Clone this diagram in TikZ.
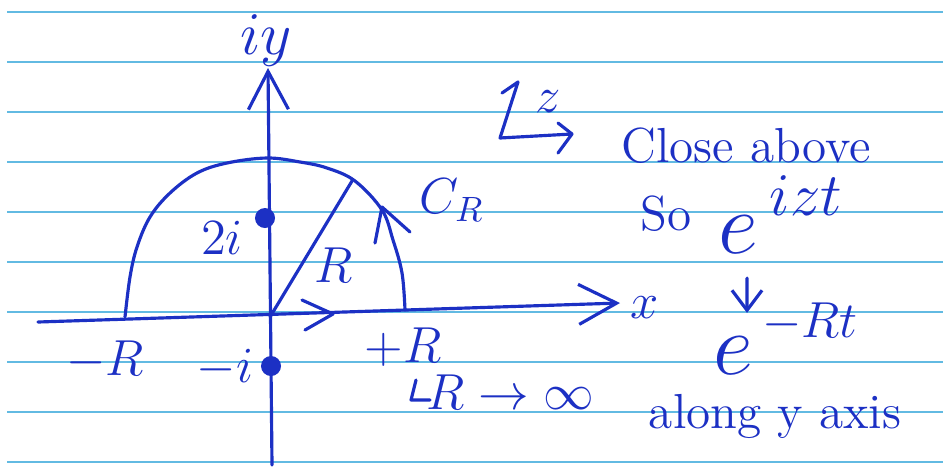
\documentclass[tikz,border=0pt]{standalone}
\usepackage{amssymb}
\usepackage{xcolor}
\usepackage{tikz}
\usetikzlibrary{arrows.meta,calc}

\definecolor{ink}{RGB}{28,48,196}
\definecolor{ruling}{RGB}{98,186,226}

\begin{document}
\begin{tikzpicture}[
    x=0.01cm, y=-0.01cm,
    font=\fontsize{14}{16}\selectfont,
    pen/.style={draw=ink, line width=0.9pt, line cap=round, line join=round},
    axis/.style={pen, -{Straight Barb[length=3.8mm, width=4mm]}},
    arr/.style={pen, -{Straight Barb[length=2mm, width=3mm]}},
    lbl/.style={text=ink, inner sep=1pt},
    big/.style={lbl, font=\fontsize{23}{26}\selectfont},
    dot/.style={circle, fill=ink, inner sep=0pt, minimum size=2mm},
    ruleline/.style={draw=ruling, line width=0.7pt}
  ]
    \fill[white] (0,0) rectangle (943,475);
    \useasboundingbox (0,0) rectangle (943,475);
    % paper
    \foreach \yy in {12,62,...,462}
      \draw[ruleline] (7,\yy) -- (943,\yy);
    % axes
    \coordinate (O) at (270,317);
    \coordinate (ybot) at (272,465);
    \coordinate (ytop) at (268,68);
    \coordinate (xleft) at (38,322);
    \coordinate (xright) at (620,303);
    \draw[axis] (ybot) -- (ytop);
    \draw[axis] (xleft) -- (xright);
    % contour
    \draw[pen] plot[smooth, tension=0.6] coordinates {(125,317) (130,277) (137,247) (150,217)
      (170,193) (197,173) (227,163) (267,158) (300,162) (327,168) (355,181) (382,210)
      (393,240) (402,273) (405,310)};
    \coordinate (rend) at (352,181);
    \draw[pen] (O) -- (rend);
    \draw[pen] (302,300) -- (333,314) -- (305,330);
    \draw[pen] (375,243) -- (382,207) -- (410,232);
    % poles
    \node[dot] (p2i) at (265,218) {};
    \node[dot] (pmi) at (271,366) {};
    % labels
    \node[lbl, font=\fontsize{18}{20}\selectfont] (iy) at (266,40) {$iy$};
    \node[lbl] (xlab) at (645,308) {$x$};
    \node[lbl] (l2i) at (222,238) {$2i$};
    \node[lbl] (lmi) at (225,368) {$-i$};
    \node[lbl] (lmr) at (105,360) {$-R$};
    \node[lbl] (lpr) at (403,347) {$+R$};
    \node[lbl] (lrad) at (334,265) {$R$};
    \node[lbl] (lcr) at (452,200) {$C_R$};
    \node[lbl] (lim) at (510,392) {$R \to \infty$};
    \draw[pen] ($(lim.west)+(-6,-12)$) -- ++(-5,20) -- ++(19,0);
    % z plane
    \coordinate (zc) at (500,138);
    \draw[pen] (502,93) -- (518,82) -- (zc) -- (572,134);
    \draw[pen] (558,123) -- (572,134) -- (558,153);
    \node[lbl] (zlab) at (548,102) {$z$};
    % note
    \node[lbl] (close) at (746,146) {Close above};
    \node[lbl] (so) at (666,214) {So};
    \node[big] (e1) at (738,235) {$e$};
    \node[lbl, font=\fontsize{16}{18}\selectfont] (sup1) at (806,196) {$izt$};
    \node[big] (e2) at (733,356) {$e$};
    \node[lbl] (sup2) at (810,322) {$-Rt$};
    \draw[arr, shorten <=2mm, shorten >=2mm] ([xshift=0.09cm]e1.south) -- ([xshift=0.14cm]e2.north);
    \node[lbl] (along) at (775,416) {along y axis};
  \end{tikzpicture}
\end{document}
